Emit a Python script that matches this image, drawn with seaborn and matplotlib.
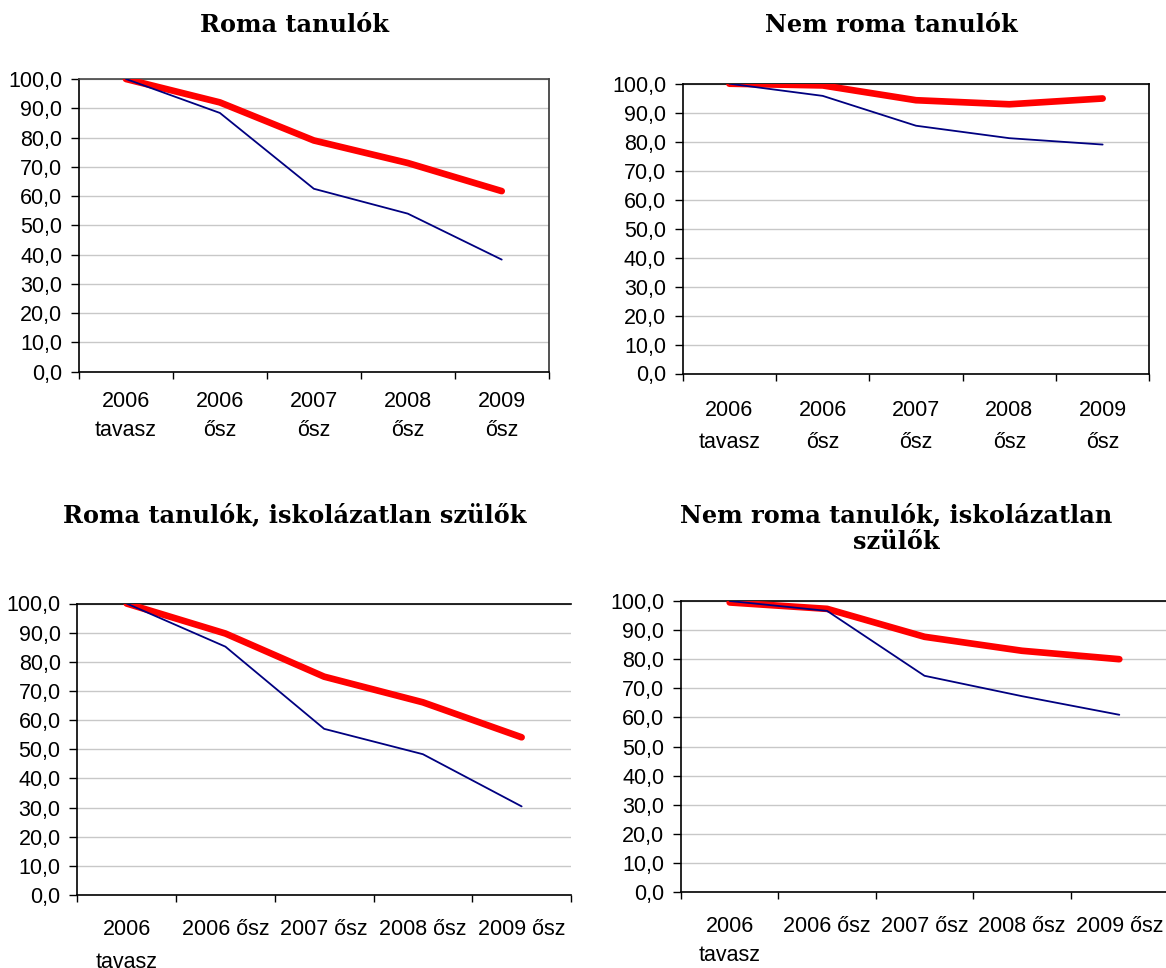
import matplotlib
matplotlib.use("Agg")
import matplotlib.pyplot as plt
import seaborn as sns
import pandas as pd
from matplotlib.ticker import FixedLocator, NullFormatter

# ---- data -------------------------------------------------------------
categories_top = ["2006\ntavasz", "2006\nősz", "2007\nősz", "2008\nősz", "2009\nősz"]
categories_bottom = ["2006\ntavasz", "2006 ősz", "2007 ősz", "2008 ősz", "2009 ősz"]

roma_red = [100.0, 92.0, 79.0, 71.3, 61.7]
roma_blue = [100.0, 88.4, 62.5, 54.0, 38.3]
nemroma_red = [100.0, 99.4, 94.3, 92.9, 94.9]
nemroma_blue = [100.0, 95.8, 85.5, 81.2, 79.0]
roma_isk_red = [100.0, 89.7, 74.9, 66.1, 54.1]
roma_isk_blue = [100.0, 85.2, 57.0, 48.3, 30.4]
nemroma_isk_red = [99.5, 97.3, 87.7, 82.9, 80.0]
nemroma_isk_blue = [100.0, 96.6, 74.3, 67.3, 60.9]

titles = ["Roma tanulók", "Nem roma tanulók",
          "Roma tanulók, iskolázatlan szülők",
          "Nem roma tanulók, iskolázatlan\nszülők"]

ytick_values = [0, 10, 20, 30, 40, 50, 60, 70, 80, 90, 100]
ytick_labels = ["0,0", "10,0", "20,0", "30,0", "40,0", "50,0",
                "60,0", "70,0", "80,0", "90,0", "100,0"]

series_names = ["piros", "kék"]
# ----------------------------------------------------------------------

sns.set_theme(style="white")
plt.rcParams["font.family"] = ["Liberation Sans", "DejaVu Sans"]

W, H = 1166, 968
fig = plt.figure(figsize=(W / 100, H / 100), dpi=100)


def rect(left, right, top, bottom):
    return [left / W, 1 - bottom / H, (right - left) / W, (bottom - top) / H]


panels = [
    dict(rect=rect(79, 548.7, 79, 371.7), cats=categories_top,
         red=roma_red, blue=roma_blue, pad=14, ls=1.5,
         spines=dict(top="#444444", right="#333333", left="black", bottom="black")),
    dict(rect=rect(682.7, 1149.3, 83.7, 373.5), cats=categories_top,
         red=nemroma_red, blue=nemroma_blue, pad=19, ls=1.68,
         spines=dict(top="black", right="black", left="black", bottom="black")),
    dict(rect=rect(77.3, 571, 603.5, 895), cats=categories_bottom,
         red=roma_isk_red, blue=roma_isk_blue, pad=17, ls=1.78,
         spines=dict(top="black", right=None, left="black", bottom="black")),
    dict(rect=rect(681, 1168, 601, 892), cats=categories_bottom,
         red=nemroma_isk_red, blue=nemroma_isk_blue, pad=17, ls=1.55,
         spines=dict(top="black", right=None, left="black", bottom="black")),
]

title_pos = [(294, 25), (891, 25), (295, 515), (896, 529)]

for p, title, tpos in zip(panels, titles, title_pos):
    ax = fig.add_axes(p["rect"])
    n = len(p["cats"])
    df = pd.DataFrame({
        "x": list(range(n)) * 2,
        "y": p["red"] + p["blue"],
        "s": [series_names[0]] * n + [series_names[1]] * n,
    })
    sns.lineplot(data=df, x="x", y="y", hue="s", hue_order=series_names,
                 palette={"piros": "#FF0000", "kék": "#000080"},
                 size="s", sizes={"piros": 4.8, "kék": 1.3},
                 legend=False, ax=ax, zorder=3)
    for line in ax.get_lines():
        line.set_solid_capstyle("round")
        line.set_solid_joinstyle("round")

    ax.set_xlim(-0.5, n - 0.5)
    ax.set_ylim(0, 100)
    ax.set_xlabel("")
    ax.set_ylabel("")

    ax.set_yticks(ytick_values)
    ax.set_yticklabels(ytick_labels)
    ax.yaxis.grid(True, color="#c8c8c8", linewidth=1.0)
    ax.xaxis.grid(False)
    ax.set_axisbelow(True)

    ax.set_xticks(range(n))
    ax.set_xticklabels(p["cats"], linespacing=p["ls"])
    ax.xaxis.set_minor_locator(FixedLocator([i - 0.5 for i in range(n + 1)]))
    ax.xaxis.set_minor_formatter(NullFormatter())
    ax.tick_params(axis="x", which="major", length=0, pad=p["pad"],
                   labelsize=15.5, labelcolor="black")
    ax.tick_params(axis="x", which="minor", bottom=True, length=5, width=1,
                   color="black", direction="out")
    ax.tick_params(axis="y", which="major", left=True, length=6, width=1,
                   color="black", direction="out", pad=6, labelsize=15.5,
                   labelcolor="black")

    for side, col in p["spines"].items():
        if col is None:
            ax.spines[side].set_visible(False)
        else:
            ax.spines[side].set_visible(True)
            ax.spines[side].set_color(col)
            ax.spines[side].set_linewidth(1.2)

    fig.text(tpos[0] / W, 1 - tpos[1] / H, title, ha="center", va="center",
             family=["DejaVu Serif"], fontweight="bold", fontsize=17.3,
             color="black", linespacing=1.15)

fig.savefig("out.png", dpi=100, facecolor="white")
